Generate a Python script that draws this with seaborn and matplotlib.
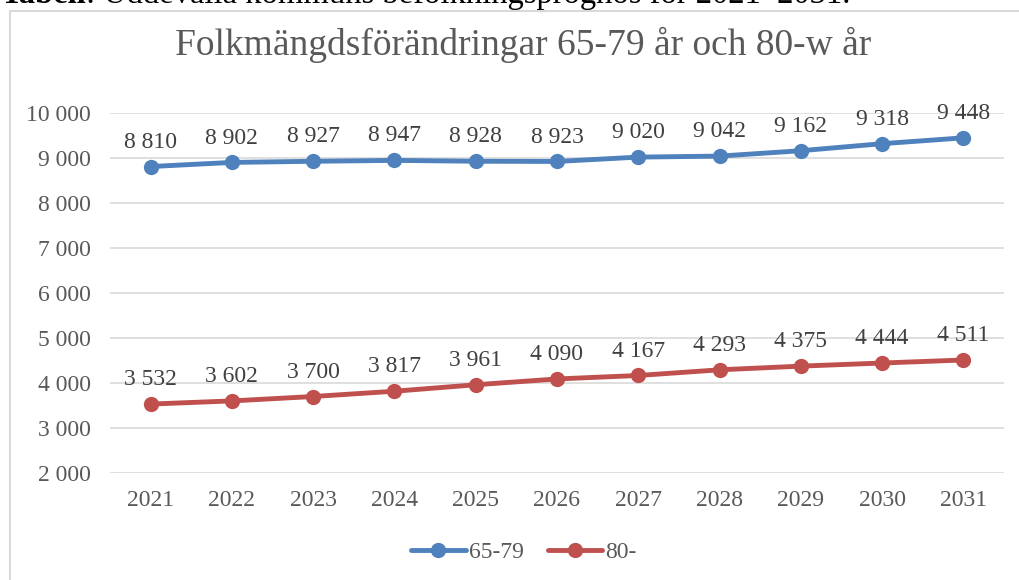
import matplotlib
matplotlib.use("Agg")
import matplotlib.pyplot as plt
import seaborn as sns
import pandas as pd
from matplotlib.patches import Rectangle
from matplotlib.lines import Line2D

years = ["2021", "2022", "2023", "2024", "2025", "2026", "2027", "2028", "2029", "2030", "2031"]
s65_79 = [8810, 8902, 8927, 8947, 8928, 8923, 9020, 9042, 9162, 9318, 9448]
s80 = [3532, 3602, 3700, 3817, 3961, 4090, 4167, 4293, 4375, 4444, 4511]
series_names = ["65-79", "80-"]
yticks = [2000, 3000, 4000, 5000, 6000, 7000, 8000, 9000, 10000]

sns.set_style("white")
plt.rcParams['font.family'] = ['Liberation Serif', 'DejaVu Serif']

df = pd.DataFrame({
    "year": years * 2,
    "value": s65_79 + s80,
    "series": [series_names[0]] * len(years) + [series_names[1]] * len(years),
})

W, H = 1019, 580
fig = plt.figure(figsize=(W / 100, H / 100), dpi=100)
ax = fig.add_axes([110 / W, 1 - 473 / H, (1004 - 110) / W, (473 - 113) / H])

blue = "#4F81BD"
red = "#C0504D"
txt = "#595959"

sns.lineplot(data=df, x="year", y="value", hue="series", palette=[blue, red],
             marker="o", markersize=11, markeredgewidth=0, linewidth=3.5,
             ax=ax, legend=False, sort=False)

ax.set_ylim(2000, 10000)
ax.set_xlim(-0.5, len(years) - 0.5)
ax.set_yticks(yticks)
ax.set_yticklabels([f"{v:,}".replace(",", " ") for v in yticks])
ax.grid(axis="y", color="#D9D9D9", linewidth=1.2)
ax.set_axisbelow(True)
for s in ax.spines.values():
    s.set_visible(False)
ax.tick_params(axis="both", length=0, labelsize=17, labelcolor=txt, pad=14)
ax.tick_params(axis="x", pad=12)
ax.set_xlabel("")
ax.set_ylabel("")

for vals in (s65_79, s80):
    for i, v in enumerate(vals):
        ax.annotate(f"{v:,}".replace(",", " "), (i, v), xytext=(0, 10),
                    textcoords="offset points", ha="center", va="bottom",
                    fontsize=17, color="#404040")

fig.text(523 / W, 1 - 45 / H, "Folkmängdsförändringar 65-79 år och 80-w år",
         ha="center", va="center", fontsize=27, color=txt)

handles = [Line2D([], [], color=c, marker="o", markersize=11, markeredgewidth=0, linewidth=3.5)
           for c in (blue, red)]
fig.legend(handles, series_names, loc="center", bbox_to_anchor=(524 / W, 1 - 552 / H),
           ncol=2, frameon=False, fontsize=17, labelcolor=txt, handlelength=2.3,
           columnspacing=1.0, handletextpad=0.15)

fig.patches.append(Rectangle((10 / W, -0.05), 1.05, 1 - 11 / H + 0.05, transform=fig.transFigure,
                             fill=False, edgecolor="#D9D9D9", linewidth=1.5))

# cut-off caption at top
t1 = fig.text(0, 1 - 3 / H, "Tabell", ha="left", va="baseline", fontsize=23.5,
              fontweight="bold", color="black")
fig.canvas.draw()
bb = t1.get_window_extent()
fig.text(bb.x1 / W, 1 - 3 / H, ": Uddevalla kommuns befolkningsprognos för 2021–2031.",
         ha="left", va="baseline", fontsize=23.5, color="black")

fig.savefig("out.png", dpi=100)
